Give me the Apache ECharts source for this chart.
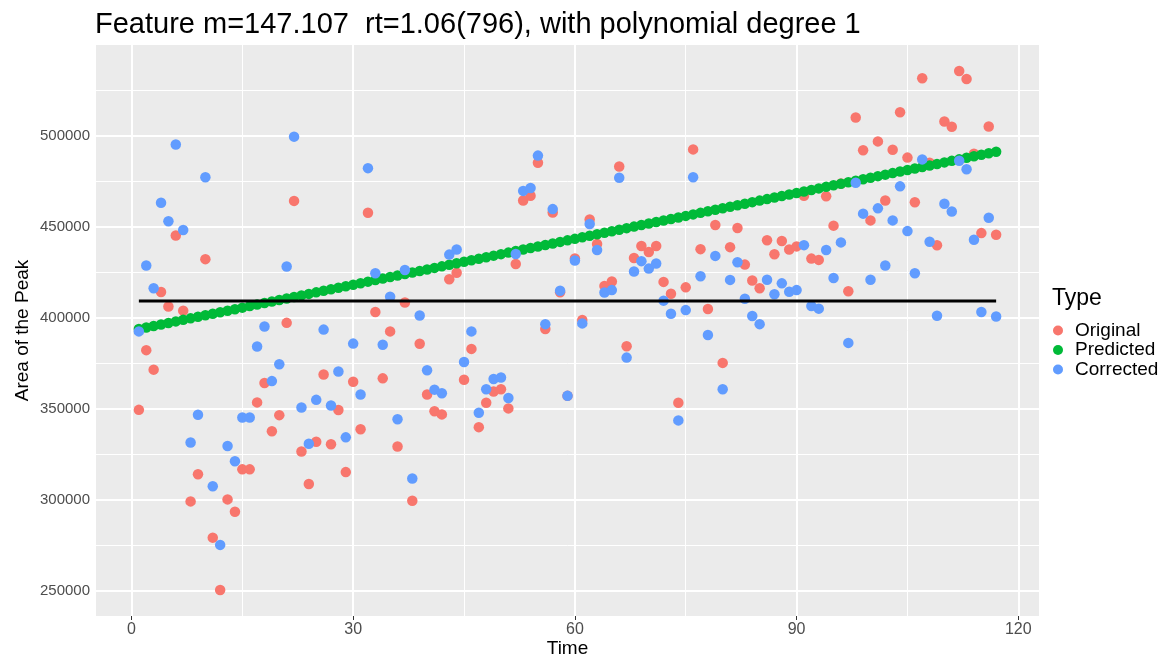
<!DOCTYPE html>
<html>
<head>
<meta charset="utf-8">
<title>Feature m=147.107 rt=1.06(796)</title>
<script src="https://cdn.jsdelivr.net/npm/echarts@6/dist/echarts.min.js"></script>
<style>
  html, body { margin: 0; padding: 0; background: #ffffff; }
  #chart { width: 1163px; height: 655px; }
</style>
</head>
<body>
<div id="chart"></div>
<script>
// Injection order (time index) of each run
const timePoints = [
  1, 2, 3, 4, 5, 6, 7, 8, 9, 10, 11, 12, 13, 14, 15, 16, 17, 18, 19, 20,
  21, 22, 23, 24, 25, 26, 27, 28, 29, 30, 31, 32, 33, 34, 35, 36, 37, 38, 39, 40,
  41, 42, 43, 44, 45, 46, 47, 48, 49, 50, 51, 52, 53, 54, 55, 56, 57, 58, 59, 60,
  61, 62, 63, 64, 65, 66, 67, 68, 69, 70, 71, 72, 73, 74, 75, 76, 77, 78, 79, 80,
  81, 82, 83, 84, 85, 86, 87, 88, 89, 90, 91, 92, 93, 94, 95, 96, 97, 98, 99, 100,
  101, 102, 103, 104, 105, 106, 107, 108, 109, 110, 111, 112, 113, 114, 115, 116, 117
];

// Raw peak areas
const originalArea = [
  349200, 382000, 371300, 414000, 406000, 445000, 403700, 298900, 313800, 432000,
  279000, 250200, 300000, 293200, 316500, 316500, 353300, 364000, 337400, 346300,
  397000, 464000, 326300, 308500, 331700, 368600, 330300, 349100, 315000, 364600,
  338500, 457500, 403000, 366500, 392300, 329100, 408200, 299300, 385500, 357600,
  348400, 346700, 421000, 424500, 365700, 382700, 339700, 353100, 359300, 360500,
  350000, 429300, 464200, 466800, 485000, 393600, 457600, 413800, 356900, 432400,
  398600, 453800, 440300, 417300, 419700, 482900, 384100, 432600, 439200, 435900,
  439200, 419500, 413000, 353100, 416500, 492300, 437500, 404600, 450800, 375000,
  438600, 449100, 429000, 420300, 416000, 442400, 434700, 442000, 437300, 439000,
  466800, 432300, 431600, 466600, 450400, 473500, 414400, 509800, 491800, 453300,
  496700, 464200, 492100, 512700, 487800, 463300, 531400, 485000, 439600, 507600,
  504700, 535400, 531000, 489900, 446300, 504900, 445400
];

// Drift fitted with a degree-1 polynomial
const predictedArea = [
  393600, 394440, 395280, 396120, 396960, 397800, 398640, 399480, 400320, 401160,
  402000, 402840, 403680, 404520, 405360, 406200, 407040, 407880, 408720, 409560,
  410400, 411240, 412080, 412920, 413760, 414600, 415440, 416280, 417120, 417960,
  418800, 419640, 420480, 421320, 422160, 423000, 423840, 424680, 425520, 426360,
  427200, 428040, 428880, 429720, 430560, 431400, 432240, 433080, 433920, 434760,
  435600, 436440, 437280, 438120, 438960, 439800, 440640, 441480, 442320, 443160,
  444000, 444840, 445680, 446520, 447360, 448200, 449040, 449880, 450720, 451560,
  452400, 453240, 454080, 454920, 455760, 456600, 457440, 458280, 459120, 459960,
  460800, 461640, 462480, 463320, 464160, 465000, 465840, 466680, 467520, 468360,
  469200, 470040, 470880, 471720, 472560, 473400, 474240, 475080, 475920, 476760,
  477600, 478440, 479280, 480120, 480960, 481800, 482640, 483480, 484320, 485160,
  486000, 486840, 487680, 488520, 489360, 490200, 491040
];

// Drift-corrected peak areas
const correctedArea = [
  392300, 428500, 416000, 463000, 452800, 495000, 448000, 331300, 346500, 477000,
  307200, 275000, 329300, 321000, 345000, 345000, 384000, 395000, 365000, 374300,
  428000, 499300, 350500, 330600, 354700, 393300, 351600, 370300, 334100, 385600,
  357600, 482000, 424300, 385000, 411300, 344000, 426000, 311500, 401000, 371000,
  360300, 358300, 434500, 437300, 375500, 392300, 347600, 360500, 366200, 367000,
  355700, 434800, 469500, 471100, 488900, 396300, 459500, 414600, 356900, 431300,
  396700, 451300, 437000, 413700, 415000, 476700, 377900, 425200, 430900, 426800,
  429600, 409200, 402000, 343400, 404000, 477000, 422600, 390300, 433800, 360500,
  420600, 430300, 410200, 400800, 396300, 420700, 412700, 418700, 414100, 415000,
  439700, 406300, 404800, 437000, 421600, 441200, 386000, 474000, 457000, 420700,
  459900, 428500, 453300, 472000, 447400, 424300, 486800, 441600, 400900, 462400,
  458200, 486100, 481400, 442700, 403000, 454700, 400500
];

// Reference level of the corrected series
const referenceLevel = 409000;

// Axis breaks
const xMajorTicks = [0, 30, 60, 90, 120];
const xMinorTicks = [15, 45, 75, 105];
const yMajorTicks = [250000, 300000, 350000, 400000, 450000, 500000];
const yMinorTicks = [275000, 325000, 375000, 425000, 475000, 525000];

const typeNames = ['Original', 'Predicted', 'Corrected'];
const typeColors = ['#F8766D', '#00BA38', '#619CFF'];

const FONT = '"Liberation Sans", Arial, sans-serif';

function pairs(values) {
  return timePoints.map((t, i) => [t, values[i]]);
}

const gridLines = [].concat(
  yMinorTicks.map(v => ({ yAxis: v, lineStyle: { width: 1 } })),
  xMinorTicks.map(v => ({ xAxis: v, lineStyle: { width: 1 } })),
  yMajorTicks.map(v => ({ yAxis: v, lineStyle: { width: 2 } })),
  xMajorTicks.map(v => ({ xAxis: v, lineStyle: { width: 2 } }))
);

const chart = echarts.init(document.getElementById('chart'), null, { renderer: 'canvas' });

const option = {
  animation: false,
  backgroundColor: '#ffffff',
  textStyle: { fontFamily: FONT },
  title: {
    text: 'Feature m=147.107  rt=1.06(796), with polynomial degree 1',
    left: 90,
    top: 5,
    textStyle: { fontFamily: FONT, fontSize: 29, fontWeight: 'normal', color: '#000000' }
  },
  grid: {
    left: 96,
    right: 124,
    top: 45,
    bottom: 39,
    containLabel: false,
    outerBoundsMode: 'none',
    show: true,
    backgroundColor: '#EBEBEB',
    borderWidth: 0
  },
  xAxis: {
    type: 'value',
    min: -4.8,
    max: 122.8,
    axisLine: { show: false },
    axisTick: { show: true, length: 4, customValues: xMajorTicks, lineStyle: { color: '#333333', width: 1 } },
    axisLabel: { customValues: xMajorTicks, color: '#4D4D4D', fontSize: 16, margin: 6, fontFamily: FONT },
    splitLine: { show: false },
    name: 'Time',
    nameLocation: 'middle',
    nameMoveOverlap: false,
    nameGap: 23,
    nameTextStyle: { color: '#000000', fontSize: 19, fontFamily: FONT }
  },
  yAxis: {
    type: 'value',
    min: 235940,
    max: 549660,
    axisLine: { show: false },
    axisTick: { show: true, length: 4, customValues: yMajorTicks, lineStyle: { color: '#333333', width: 1 } },
    axisLabel: {
      customValues: yMajorTicks,
      formatter: v => String(v),
      color: '#4D4D4D',
      fontSize: 15,
      margin: 6,
      fontFamily: FONT
    },
    splitLine: { show: false },
    name: 'Area of the Peak',
    nameLocation: 'middle',
    nameRotate: 90,
    nameMoveOverlap: false,
    nameGap: 64,
    nameTextStyle: { color: '#000000', fontSize: 19, fontFamily: FONT }
  },
  legend: {
    data: typeNames,
    orient: 'vertical',
    left: 1048,
    top: 316,
    itemWidth: 24,
    itemHeight: 10,
    itemGap: 0.5,
    padding: [5, 5, 5, 5],
    icon: 'circle',
    selectedMode: false,
    textStyle: { fontSize: 19, lineHeight: 19, color: '#000000', fontFamily: FONT }
  },
  graphic: [
    {
      type: 'text',
      left: 1052,
      top: 287,
      style: { text: 'Type', fontSize: 23, fill: '#000000', fontFamily: FONT }
    }
  ],
  series: [
    {
      name: 'grid',
      type: 'scatter',
      data: [],
      silent: true,
      markLine: {
        silent: true,
        z: 1,
        symbol: ['none', 'none'],
        label: { show: false },
        lineStyle: { color: '#FFFFFF', type: 'solid' },
        emphasis: { disabled: true },
        data: gridLines
      }
    },
    {
      name: typeNames[0],
      type: 'scatter',
      z: 2,
      symbolSize: 10.5,
      itemStyle: { color: typeColors[0], opacity: 1 },
      data: pairs(originalArea)
    },
    {
      name: typeNames[1],
      type: 'scatter',
      z: 3,
      symbolSize: 10.5,
      itemStyle: { color: typeColors[1], opacity: 1 },
      data: pairs(predictedArea)
    },
    {
      name: typeNames[2],
      type: 'scatter',
      z: 4,
      symbolSize: 10.5,
      itemStyle: { color: typeColors[2], opacity: 1 },
      data: pairs(correctedArea)
    },
    {
      name: 'reference',
      type: 'line',
      z: 5,
      symbol: 'none',
      silent: true,
      lineStyle: { color: '#000000', width: 3 },
      data: [
        [timePoints[0], referenceLevel],
        [timePoints[timePoints.length - 1], referenceLevel]
      ]
    }
  ]
};

chart.setOption(option);
</script>
</body>
</html>
